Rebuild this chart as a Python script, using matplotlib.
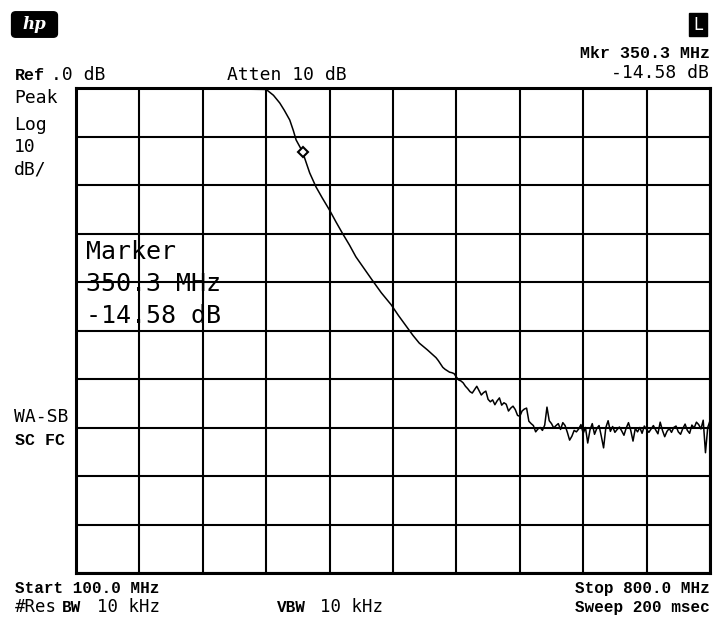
import numpy as np
import matplotlib
matplotlib.use("Agg")
import matplotlib.pyplot as plt
from matplotlib.patches import FancyBboxPatch

# ---------------- data ----------------
start_mhz = 100.0
stop_mhz = 800.0
ref_db = 0.0
db_per_div = 10
n_div = 10

# smooth roll-off part of trace (MHz, dB)
rolloff_freq = [100, 200, 310, 318, 325, 330, 336, 340, 343, 350, 358, 365, 372,
                380, 387, 394, 402, 409, 418, 427, 437, 448, 456, 465, 472, 479,
                488, 497.5]
rolloff_db = [0.0, 0.0, -0.3, -1.5, -3.1, -4.6, -6.6, -8.8, -10.7, -13.1, -17.5,
              -20.4, -22.7, -25.2, -27.6, -29.9, -32.4, -34.8, -37.2, -39.6,
              -42.2, -44.7, -46.9, -49.2, -51.0, -52.6, -54.0, -55.6]

# noisy part of trace, one reading per 2.5 MHz from 500 to 800 MHz
noisy_start = 500.0
noisy_step = 2.5
noisy_db = [
    -56.2, -56.9, -57.6, -58.0, -58.3, -58.6, -58.7, -58.9, -59.6, -60.2,
    -60.4, -60.8, -61.5, -62.0, -62.6, -62.9, -62.2, -61.5, -62.4, -63.3,
    -62.8, -62.5, -64.2, -64.7, -64.3, -65.3, -64.5, -63.9, -65.4, -64.9,
    -65.2, -66.6, -66.0, -65.6, -66.3, -67.5, -67.7, -66.6, -66.2, -66.0,
    -68.7, -69.2, -69.6, -70.9, -70.3, -70.0, -70.6, -69.5, -65.8, -68.6,
    -69.2, -70.1, -69.6, -69.2, -70.4, -69.0, -69.6, -71.0, -72.6, -71.8,
    -70.6, -70.9, -70.3, -69.4, -71.2, -70.0, -73.2, -70.5, -69.2, -71.4,
    -70.2, -69.6, -71.8, -74.2, -70.0, -68.6, -70.8, -69.8, -71.0, -70.4,
    -69.9, -70.7, -71.6, -70.1, -69.0, -70.6, -72.8, -70.2, -70.9, -70.0,
    -71.2, -69.7, -70.4, -71.0, -70.3, -69.6, -70.5, -71.3, -68.9, -70.6,
    -71.9, -70.8, -70.2, -71.0, -70.0, -69.7, -70.9, -71.4, -70.2, -69.3,
    -70.6, -71.2, -69.5, -70.1, -68.9, -69.4, -70.3, -68.5, -75.2, -70.0,
    -68.6]

marker_mhz = 350.3
marker_db_readout = -14.58

# --------------- figure ---------------
W, H = 714, 623
fig = plt.figure(figsize=(W / 100, H / 100), dpi=100)
fig.patch.set_facecolor("white")

L, R, T, B = 76, 710, 88, 573
ax = fig.add_axes([L / W, 1 - B / H, (R - L) / W, (B - T) / H])

noisy_freq = noisy_start + noisy_step * np.arange(len(noisy_db))
freq = np.concatenate([np.array(rolloff_freq, float), noisy_freq])
level = np.concatenate([np.array(rolloff_db, float), np.array(noisy_db, float)])

ax.set_xlim(start_mhz, stop_mhz)
ax.set_ylim(ref_db - db_per_div * n_div, ref_db)
ax.set_xticks(np.linspace(start_mhz, stop_mhz, n_div + 1))
ax.set_yticks(np.linspace(ref_db - db_per_div * n_div, ref_db, n_div + 1))
ax.tick_params(length=0, labelbottom=False, labelleft=False)
ax.grid(True, color="black", lw=1.5)
ax.set_axisbelow(True)
for s in ax.spines.values():
    s.set_linewidth(2.2)
    s.set_color("black")

ax.plot(freq, level, color="black", lw=1.1, clip_on=False, zorder=3)
mk_level = np.interp(marker_mhz, freq, level)
ax.plot([marker_mhz], [mk_level], marker="D", ms=5.5, mfc="white", mec="black",
        mew=1.5, zorder=4, clip_on=False)

# --------------- text helpers ---------------
def t(x, y, s, ha="left", fam="DejaVu Sans Mono", size=13, weight="normal", **kw):
    fig.text(x / W, 1 - y / H, s, ha=ha, va="baseline", family=fam,
             fontsize=size, fontweight=weight, **kw)

MONO = "DejaVu Sans Mono"
CB = "Liberation Mono"

# hp logo
fig.patches.append(FancyBboxPatch((13 / W, 1 - 36 / H), 43 / W, 23 / H,
                                  boxstyle="round,pad=0.002,rounding_size=0.006",
                                  transform=fig.transFigure, fc="black", ec="black"))
fig.text(34.5 / W, 1 - 24.5 / H, "hp", ha="center", va="center", color="white",
         fontsize=12, fontstyle="italic", fontweight="bold", family="DejaVu Serif")
# L box
fig.patches.append(FancyBboxPatch((689 / W, 1 - 36 / H), 18 / W, 23 / H,
                                  boxstyle="square,pad=0", transform=fig.transFigure,
                                  fc="black", ec="black"))
fig.text(698 / W, 1 - 25 / H, "L", ha="center", va="center", color="white",
         fontsize=12, family="DejaVu Sans")

# header
t(710, 58, "Mkr 350.3 MHz", ha="right", fam=CB, size=12, weight="bold")
t(709, 78, f"{marker_db_readout:.2f} dB", ha="right", fam=MONO, size=13)
t(15, 80, "Ref", fam=CB, size=12, weight="bold")
t(51, 80, ".0 dB", fam=MONO, size=13)
t(227, 80, "Atten 10 dB", fam=MONO, size=13)

# left labels
t(14, 103, "Peak", fam=MONO, size=13)
t(14, 130, "Log", fam=MONO, size=13)
t(14, 152, "10", fam=MONO, size=13)
t(14, 175, "dB/", fam=MONO, size=13)
t(14, 421.5, "WA-SB", fam=MONO, size=13)
t(15, 445, "SC FC", fam=CB, size=12, weight="bold")

# marker block
t(86, 259, "Marker", fam=MONO, size=18)
t(86, 291, f"{marker_mhz:.1f} MHz", fam=MONO, size=18)
t(86, 323, f"{marker_db_readout:.2f} dB", fam=MONO, size=18)

# footer
t(15, 593, "Start 100.0 MHz", fam=CB, size=11.5, weight="bold")
t(15, 612, "#Res", fam=MONO, size=12.5)
t(62, 612, "BW", fam=CB, size=11.5, weight="bold")
t(97, 612, "10 kHz", fam=MONO, size=12.5)
t(277, 612, "VBW", fam=CB, size=11.5, weight="bold")
t(320, 612, "10 kHz", fam=MONO, size=12.5)
t(710, 593, "Stop 800.0 MHz", ha="right", fam=CB, size=11.5, weight="bold")
t(710, 612, "Sweep 200 msec", ha="right", fam=CB, size=11.5, weight="bold")

fig.savefig("out.png", dpi=100, facecolor="white")
